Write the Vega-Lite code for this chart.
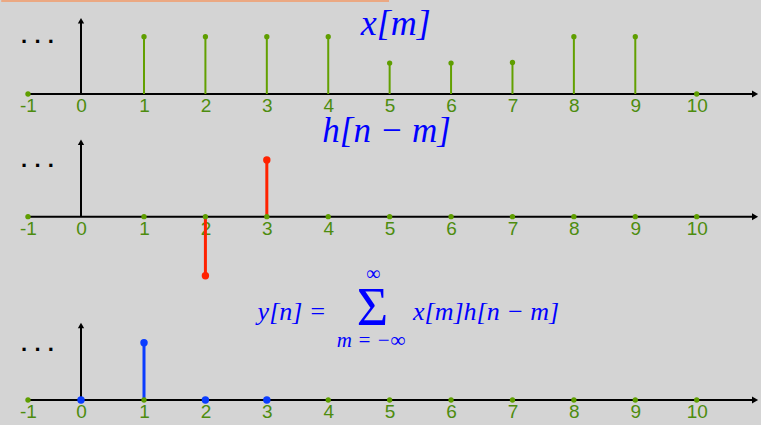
{
  "$schema": "https://vega.github.io/schema/vega-lite/v6.json",
  "background": "#d4d4d4",
  "padding": 0,
  "spacing": 0,
  "bounds": "flush",
  "config": {"view": {"stroke": null}},
  "datasets": {
    "xm": [{"m":-1,"v":0},{"m":1,"v":1},{"m":2,"v":1},{"m":3,"v":1},{"m":4,"v":1},{"m":5,"v":0.54},{"m":6,"v":0.54},{"m":7,"v":0.55},{"m":8,"v":1},{"m":9,"v":1},{"m":10,"v":0}],
    "hm": [{"m":2,"v":-1.03},{"m":3,"v":0.99}],
    "hzero": [{"m":-1,"v":0},{"m":1,"v":0},{"m":2,"v":0},{"m":3,"v":0},{"m":4,"v":0},{"m":5,"v":0},{"m":6,"v":0},{"m":7,"v":0},{"m":8,"v":0},{"m":9,"v":0},{"m":10,"v":0}],
    "yn": [{"m":0,"v":0},{"m":1,"v":1},{"m":2,"v":0},{"m":3,"v":0}],
    "yzero": [{"m":-1,"v":0},{"m":1,"v":0},{"m":4,"v":0},{"m":5,"v":0},{"m":6,"v":0},{"m":7,"v":0},{"m":8,"v":0},{"m":9,"v":0},{"m":10,"v":0}]
  },
  "vconcat": [
    {
      "width": 761, "height": 94,
      "encoding": {
        "x": {"field": "m", "type": "quantitative",
          "scale": {"domain": [-1, 0, 1, 10], "range": [27, 80, 143, 695.7], "nice": false, "zero": false},
          "axis": {"values": [-1,0,1,2,3,4,5,6,7,8,9,10], "labelExpr": "'' + datum.value", "title": null, "domain": false, "ticks": false, "tickSize": 0, "grid": false, "labelPadding": 2, "labelFont": "Liberation Sans", "labelFontSize": 19, "labelColor": "#4d8c0e", "labelFlush": false, "labelOverlap": false, "offset": 0}},
        "y": {"field": "v", "type": "quantitative", "scale": {"domain": [0, 1.6405], "nice": false, "zero": false}, "axis": null}
      },
      "layer": [
        {"data": {"values": [{"m": -1.505, "m2": 4.99, "v": 1.623}]}, "mark": {"type": "rule", "color": "#eba882", "strokeWidth": 2}, "encoding": {"x2": {"field": "m2"}}},
        {"data": {"values": [{"m": -1.04, "m2": 10.95, "v": 0}]}, "mark": {"type": "rule", "color": "black", "strokeWidth": 2}, "encoding": {"x2": {"field": "m2"}}},
        {"data": {"values": [{"m": 10.95, "v": 0}]}, "mark": {"type": "point", "shape": "triangle-right", "filled": true, "color": "black", "size": 50, "opacity": 1}},
        {"data": {"values": [{"m": 0, "v": 0, "v2": 1.28}]}, "mark": {"type": "rule", "color": "black", "strokeWidth": 2}, "encoding": {"y2": {"field": "v2"}}},
        {"data": {"values": [{"m": 0, "v": 1.28}]}, "mark": {"type": "point", "shape": "triangle-up", "filled": true, "color": "black", "size": 40, "opacity": 1}},
        {"data": {"name": "xm"}, "mark": {"type": "rule", "color": "#62a000", "strokeWidth": 2}, "encoding": {"y2": {"datum": 0}}},
        {"data": {"name": "xm"}, "mark": {"type": "point", "filled": true, "color": "#5f9e00", "size": 28, "opacity": 1}},
        {"data": {"values": [{"m": -0.81, "v": 0.9, "t": "· · ·"}]}, "mark": {"type": "text", "font": "Liberation Sans", "fontSize": 22, "baseline": "middle", "align": "center", "color": "black", "fontWeight": "bold"}, "encoding": {"text": {"field": "t"}}},
        {"data": {"values": [{"m": 5.1, "v": 1.03, "t": "x[m]"}]}, "mark": {"type": "text", "font": "Liberation Serif", "fontStyle": "italic", "fontSize": 36, "baseline": "alphabetic", "align": "center", "color": "#0000ff"}, "encoding": {"text": {"field": "t"}}}
      ]
    },
    {
      "width": 761, "height": 206,
      "encoding": {
        "x": {"field": "m", "type": "quantitative",
          "scale": {"domain": [-1, 0, 1, 10], "range": [27, 80, 143, 695.7], "nice": false, "zero": false},
          "axis": {"values": [-1,0,1,2,3,4,5,6,7,8,9,10], "labelExpr": "'' + datum.value", "title": null, "domain": false, "ticks": false, "tickSize": 0, "grid": false, "labelPadding": 2, "labelFont": "Liberation Sans", "labelFontSize": 19, "labelColor": "#4d8c0e", "labelFlush": false, "labelOverlap": false, "offset": -83}},
        "y": {"field": "v", "type": "quantitative", "scale": {"domain": [-1.4538, 2.1414], "nice": false, "zero": false}, "axis": null}
      },
      "layer": [
        {"data": {"values": [{"m": -1.04, "m2": 10.95, "v": 0}]}, "mark": {"type": "rule", "color": "black", "strokeWidth": 2}, "encoding": {"x2": {"field": "m2"}}},
        {"data": {"values": [{"m": 10.95, "v": 0}]}, "mark": {"type": "point", "shape": "triangle-right", "filled": true, "color": "black", "size": 50, "opacity": 1}},
        {"data": {"values": [{"m": 0, "v": 0, "v2": 1.3}]}, "mark": {"type": "rule", "color": "black", "strokeWidth": 2}, "encoding": {"y2": {"field": "v2"}}},
        {"data": {"values": [{"m": 0, "v": 1.3}]}, "mark": {"type": "point", "shape": "triangle-up", "filled": true, "color": "black", "size": 40, "opacity": 1}},
        {"data": {"name": "hm"}, "mark": {"type": "rule", "color": "#ff2200", "strokeWidth": 3}, "encoding": {"y2": {"datum": 0}}},
        {"data": {"name": "hzero"}, "mark": {"type": "point", "filled": true, "color": "#5f9e00", "size": 28, "opacity": 1}},
        {"data": {"name": "hm"}, "mark": {"type": "point", "filled": true, "color": "#ff2200", "size": 55, "opacity": 1}},
        {"data": {"values": [{"m": -0.81, "v": 0.88, "t": "· · ·"}]}, "mark": {"type": "text", "font": "Liberation Sans", "fontSize": 22, "baseline": "middle", "align": "center", "color": "black", "fontWeight": "bold"}, "encoding": {"text": {"field": "t"}}},
        {"data": {"values": [{"m": 4.95, "v": 1.31, "t": "h[n − m]"}]}, "mark": {"type": "text", "font": "Liberation Serif", "fontStyle": "italic", "fontSize": 35, "baseline": "alphabetic", "align": "center", "color": "#0000ff"}, "encoding": {"text": {"field": "t"}}}
      ]
    },
    {
      "width": 761, "height": 125,
      "encoding": {
        "x": {"field": "m", "type": "quantitative",
          "scale": {"domain": [-1, 0, 1, 10], "range": [27, 80, 143, 695.7], "nice": false, "zero": false},
          "axis": {"values": [-1,0,1,2,3,4,5,6,7,8,9,10], "labelExpr": "'' + datum.value", "title": null, "domain": false, "ticks": false, "tickSize": 0, "grid": false, "labelPadding": 2, "labelFont": "Liberation Sans", "labelFontSize": 19, "labelColor": "#4d8c0e", "labelFlush": false, "labelOverlap": false, "offset": -25}},
        "y": {"field": "v", "type": "quantitative", "scale": {"domain": [-0.4363, 1.7452], "nice": false, "zero": false}, "axis": null}
      },
      "layer": [
        {"data": {"values": [{"m": -1.04, "m2": 10.95, "v": 0}]}, "mark": {"type": "rule", "color": "black", "strokeWidth": 2}, "encoding": {"x2": {"field": "m2"}}},
        {"data": {"values": [{"m": 10.95, "v": 0}]}, "mark": {"type": "point", "shape": "triangle-right", "filled": true, "color": "black", "size": 50, "opacity": 1}},
        {"data": {"values": [{"m": 0, "v": 0, "v2": 1.3}]}, "mark": {"type": "rule", "color": "black", "strokeWidth": 2}, "encoding": {"y2": {"field": "v2"}}},
        {"data": {"values": [{"m": 0, "v": 1.3}]}, "mark": {"type": "point", "shape": "triangle-up", "filled": true, "color": "black", "size": 40, "opacity": 1}},
        {"data": {"name": "yn"}, "mark": {"type": "rule", "color": "#0a3cff", "strokeWidth": 3}, "encoding": {"y2": {"datum": 0}}},
        {"data": {"name": "yzero"}, "mark": {"type": "point", "filled": true, "color": "#5f9e00", "size": 28, "opacity": 1}},
        {"data": {"name": "yn"}, "mark": {"type": "point", "filled": true, "color": "#0a3cff", "size": 55, "opacity": 1}},
        {"data": {"values": [{"m": -0.81, "v": 0.88, "t": "· · ·"}]}, "mark": {"type": "text", "font": "Liberation Sans", "fontSize": 22, "baseline": "middle", "align": "center", "color": "black", "fontWeight": "bold"}, "encoding": {"text": {"field": "t"}}},
        {"data": {"values": [{"m": 3.41, "v": 1.396, "t": "y[n] ="}]}, "mark": {"type": "text", "font": "Liberation Serif", "fontStyle": "italic", "fontSize": 26, "baseline": "alphabetic", "align": "center", "color": "#0000ff"}, "encoding": {"text": {"field": "t"}}},
        {"data": {"values": [{"m": 4.72, "v": 1.309, "t": "Σ"}]}, "mark": {"type": "text", "font": "Liberation Serif", "fontSize": 54, "baseline": "alphabetic", "align": "center", "color": "#0000ff"}, "encoding": {"text": {"field": "t"}}},
        {"data": {"values": [{"m": 4.73, "v": 2.2, "t": "∞"}]}, "mark": {"type": "text", "font": "Liberation Serif", "fontSize": 20, "baseline": "middle", "align": "center", "color": "#0000ff"}, "encoding": {"text": {"field": "t"}}},
        {"data": {"values": [{"m": 4.70, "v": 1.03, "t": "m = −∞"}]}, "mark": {"type": "text", "font": "Liberation Serif", "fontStyle": "italic", "fontSize": 21, "baseline": "middle", "align": "center", "color": "#0000ff"}, "encoding": {"text": {"field": "t"}}},
        {"data": {"values": [{"m": 5.38, "v": 1.396, "t": "x[m]h[n − m]"}]}, "mark": {"type": "text", "font": "Liberation Serif", "fontStyle": "italic", "fontSize": 26, "baseline": "alphabetic", "align": "left", "color": "#0000ff"}, "encoding": {"text": {"field": "t"}}}
      ]
    }
  ]
}
